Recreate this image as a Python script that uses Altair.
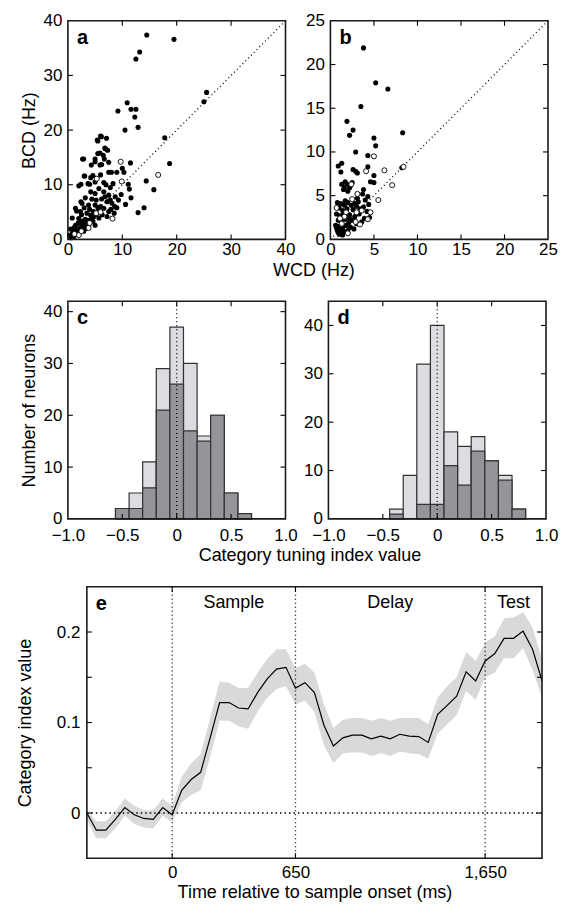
import altair as alt
import pandas as pd

FONT = "Liberation Sans"
LBL = 17
TTL = 18

# ---------------- panel a (WCD vs BCD, Hz) ----------------
a_filled_wcd = [14.5, 19.5, 13.2, 12.5, 25.5, 25.0, 10.9, 9.2, 11.6, 12.5, 12.3, 12.9, 10.5, 17.8, 18.7,
                11.5, 14.4, 15.8, 11.1, 11.3, 11.6, 10.6, 14.0, 12.9, 10.0, 10.3, 9.0, 8.0, 7.5,
                6.15, 5.5, 6.9, 5.5, 6.5, 2.7, 5.0, 6.2, 4.3, 3.1, 4.6, 5.0, 3.7, 6.6, 2.0, 5.7, 6.6,
                4.2, 5.0, 7.5, 8.7, 3.2, 4.4, 6.2, 7.2, 2.6, 3.8, 5.0, 8.1, 1.4, 6.6, 2.3, 3.5, 4.7,
                5.6, 7.5, 0.8, 2.0, 3.2, 4.4, 5.7, 1.4, 2.6, 3.8, 5.0, 0.5, 1.7, 2.9, 0.8, 2.0, 0.3,
                1.1, 5.9, 7.3, 6.7, 5.9, 7.5, 5.0, 2.9, 3.0, 4.2, 2.4, 4.0, 2.4, 1.6, 7.1, 6.0, 5.4,
                6.8, 7.8, 8.3, 7.0, 6.0, 7.8, 8.6, 9.3, 9.8, 6.0, 5.2, 4.0, 3.0, 2.5, 1.9, 1.2, 2.2,
                3.5, 4.2, 6.3, 7.2, 8.5, 3.0, 1.5, 0.6, 2.6, 3.9, 4.8, 5.5, 6.8, 7.9, 9.0, 1.0, 2.4,
                3.3, 0.9, 1.8, 2.7, 4.6, 5.2]
a_filled_bcd = [37.4, 36.6, 34.3, 33.0, 26.9, 25.2, 25.0, 23.5, 23.8, 23.8, 22.4, 20.5, 20.0, 18.6, 13.9,
                14.0, 10.7, 9.1, 10.1, 9.2, 7.6, 6.4, 5.8, 4.9, 13.0, 12.3, 12.3, 12.3, 12.3,
                18.8, 18.0, 16.6, 15.7, 15.4, 14.7, 14.2, 13.7, 13.6, 11.6, 11.7, 10.5, 10.2, 10.4, 9.8, 9.3, 8.7,
                8.7, 8.4, 8.1, 7.8, 7.6, 7.4, 7.4, 6.9, 6.6, 6.3, 6.3, 6.6, 5.7, 5.7, 5.1, 4.8, 5.1,
                5.1, 5.1, 3.9, 3.8, 3.7, 3.8, 3.9, 2.6, 2.6, 2.6, 2.6, 1.9, 1.7, 1.5, 1.1, 1.0, 0.7,
                0.5, 15.8, 16.3, 14.7, 13.6, 14.1, 14.7, 14.7, 11.6, 11.3, 10.1, 10.1, 6.9, 5.2, 18.5, 18.9, 18.2,
                16.7, 9.5, 10.2, 10.0, 11.8, 7.2, 6.0, 7.2, 8.2, 6.0, 7.2, 5.5, 5.8, 4.5, 3.0, 2.2, 2.1,
                3.2, 4.4, 4.5, 4.2, 4.8, 2.5, 1.3, 0.3, 3.3, 3.5, 4.2, 5.8, 7.8, 5.5, 5.8, 1.6, 1.8,
                2.0, 0.8, 0.9, 2.8, 3.3, 4.6]
a_open_wcd = [9.7, 5.3, 9.9, 16.6, 8.2, 3.8, 5.2, 2.0, 4.0, 1.2, 6.0, 2.5]
a_open_bcd = [14.2, 11.1, 10.6, 11.8, 3.8, 2.1, 4.8, 0.8, 3.0, 1.0, 5.0, 1.5]

# ---------------- panel b ----------------
b_filled_wcd = [3.8, 5.2, 6.6, 3.5, 1.9, 2.6, 2.2, 8.3, 5.0, 5.2, 2.9, 4.3, 0.9, 1.3, 1.2, 2.6, 2.9, 3.1,
                4.3, 5.0, 4.6, 5.0, 8.2, 1.3, 1.9, 2.3, 1.5, 2.0, 2.5, 3.7, 4.3, 3.8, 3.1, 1.7, 2.2, 1.6,
                0.8, 1.2, 1.6, 2.0, 2.4, 1.0, 1.4, 1.9, 2.6, 3.0, 3.4, 3.8, 4.2, 0.7, 1.1, 1.5, 2.2, 2.8,
                3.3, 3.9, 4.5, 0.9, 1.3, 1.7, 2.1, 2.5, 3.0, 3.6, 0.6, 1.0, 1.4, 1.8, 2.3, 2.7, 0.8, 1.2,
                1.6, 2.0, 1.0, 1.4, 0.7, 4.0, 4.4, 3.2, 2.8, 1.7, 1.1, 2.2]
b_filled_bcd = [21.9, 17.9, 17.2, 15.2, 13.5, 12.5, 11.9, 12.2, 11.6, 10.7, 10.0, 9.6, 8.4, 8.7, 7.7, 8.0, 7.8, 7.6,
                8.3, 7.3, 6.6, 6.5, 8.2, 6.3, 6.3, 6.1, 5.7, 5.5, 6.5, 5.2, 4.9, 5.7, 4.7, 6.6, 5.9, 5.9,
                4.2, 4.1, 3.9, 4.2, 3.9, 3.6, 3.3, 3.5, 3.4, 3.8, 3.5, 3.7, 3.2, 2.9, 2.7, 2.9, 2.8, 2.6,
                2.9, 2.4, 2.5, 2.2, 2.0, 2.3, 1.9, 2.2, 1.8, 2.0, 1.6, 1.5, 1.3, 1.6, 1.4, 1.2, 1.0, 0.8,
                0.9, 1.0, 0.6, 0.5, 1.3, 4.5, 4.0, 4.3, 4.1, 4.4, 1.1, 2.4]
b_open_wcd = [5.0, 4.1, 6.2, 7.1, 5.5, 3.1, 8.4, 4.6, 3.4, 0.7, 2.4, 1.8, 2.9, 3.6, 1.3, 2.5, 4.3, 1.6, 3.0, 2.0, 1.1]
b_open_bcd = [9.5, 7.8, 7.9, 6.2, 4.5, 5.2, 8.3, 3.1, 1.7, 3.6, 6.3, 3.1, 2.0, 3.3, 1.8, 4.6, 2.3, 2.6, 3.1, 0.7, 2.4]

# ---------------- panels c, d (histograms) ----------------
bin_width = 0.125
c_centers = [-0.5, -0.375, -0.25, -0.125, 0.0, 0.125, 0.25, 0.375, 0.5, 0.625]
c_all = [2, 5, 11, 29, 37, 30, 16, 20, 5, 1]
c_sub = [2, 2, 6, 21, 26, 17, 15, 20, 5, 1]
d_centers = [-0.375, -0.25, -0.125, 0.0, 0.125, 0.25, 0.375, 0.5, 0.625, 0.75]
d_all = [2, 9, 32, 40, 18, 15, 17, 12, 9, 2]
d_sub = [1, 0, 3, 3, 11, 7, 14, 12, 8, 2]

# ---------------- panel e (time course) ----------------
e_time = [-450, -400, -350, -300, -250, -200, -150, -100, -50, 0, 50, 100, 150, 200, 250, 300, 350,
          400, 450, 500, 550, 600, 650, 700, 750, 800, 850, 900, 950, 1000, 1050, 1100, 1150, 1200,
          1250, 1300, 1350, 1400, 1450, 1500, 1550, 1600, 1650, 1700, 1750, 1800, 1850, 1900, 1950]
e_mean = [0.000, -0.019, -0.019, -0.007, 0.006, -0.002, -0.006, -0.007, 0.006, -0.002, 0.025, 0.037,
          0.045, 0.083, 0.122, 0.122, 0.116, 0.115, 0.133, 0.148, 0.159, 0.161, 0.138, 0.144, 0.133,
          0.097, 0.074, 0.083, 0.086, 0.086, 0.082, 0.085, 0.082, 0.087, 0.085, 0.0845, 0.078, 0.109,
          0.119, 0.129, 0.156, 0.146, 0.168, 0.176, 0.193, 0.193, 0.201, 0.181, 0.146]
e_upper = [0.004, -0.009, -0.009, 0.002, 0.016, 0.008, 0.003, 0.003, 0.016, 0.008, 0.040, 0.055,
           0.065, 0.105, 0.145, 0.144, 0.138, 0.138, 0.155, 0.170, 0.181, 0.181, 0.160, 0.165, 0.155,
           0.120, 0.094, 0.103, 0.105, 0.105, 0.102, 0.105, 0.102, 0.105, 0.105, 0.105, 0.098, 0.128,
           0.140, 0.150, 0.178, 0.168, 0.188, 0.195, 0.215, 0.216, 0.222, 0.205, 0.170]
e_lower = [-0.008, -0.028, -0.028, -0.017, -0.003, -0.012, -0.016, -0.017, -0.003, -0.010, 0.012, 0.020,
           0.025, 0.062, 0.102, 0.102, 0.096, 0.093, 0.112, 0.127, 0.137, 0.140, 0.120, 0.124, 0.112,
           0.075, 0.055, 0.066, 0.067, 0.067, 0.063, 0.066, 0.063, 0.068, 0.066, 0.065, 0.060, 0.088,
           0.098, 0.108, 0.135, 0.125, 0.150, 0.155, 0.171, 0.171, 0.182, 0.158, 0.128]
e_events = [0, 650, 1650]
e_phase_names = ["Sample", "Delay", "Test"]
e_phase_start = [0, 650, 1650]
e_phase_end = [650, 1650, 1950]

panel_letters = ["a", "b", "c", "d", "e"]

LIGHT = "#dcdde0"
DARK = "#949599"
EDGE = "#333333"
BAND = "#d8d9db"
NOFRAME = alt.ViewBackground(stroke="transparent", fill="transparent")


def lab_axis(orient, values, title=None, expr=None, fmt=None, label_pad=4, title_pad=8, **extra):
    kw = dict(orient=orient, values=values, ticks=False, domain=False, grid=False,
              labelFont=FONT, labelFontSize=LBL, labelColor="black", labelPadding=label_pad,
              titleFont=FONT, titleFontSize=TTL, titleFontWeight="normal", titleColor="black",
              titlePadding=title_pad, labelFlush=False, labelOverlap=False, minExtent=0, title=title)
    if expr is not None:
        kw["labelExpr"] = expr
    if fmt is not None:
        kw["format"] = fmt
    kw.update(extra)
    return alt.Axis(**kw)


def inner_ticks(xvals, yvals, xs, ys, w, h, L=5):
    xt = pd.DataFrame({"v": xvals})
    yt = pd.DataFrame({"v": yvals})
    st = dict(color="black", strokeWidth=1.1)
    return [
        alt.Chart(xt).mark_rule(**st).encode(x=alt.X("v:Q", scale=xs, axis=None),
                                             y=alt.value(h), y2=alt.value(h - L)),
        alt.Chart(xt).mark_rule(**st).encode(x=alt.X("v:Q", scale=xs, axis=None),
                                             y=alt.value(0), y2=alt.value(L)),
        alt.Chart(yt).mark_rule(**st).encode(y=alt.Y("v:Q", scale=ys, axis=None),
                                             x=alt.value(0), x2=alt.value(L)),
        alt.Chart(yt).mark_rule(**st).encode(y=alt.Y("v:Q", scale=ys, axis=None),
                                             x=alt.value(w - L), x2=alt.value(w)),
    ]


def framed(layers, xs, ys, xt, yt, letter, w, h):
    lab = pd.DataFrame({"t": [letter]})
    let = alt.Chart(lab).mark_text(
        font=FONT, fontSize=20, fontWeight="bold", align="left", baseline="alphabetic", color="black"
    ).encode(text="t:N", x=alt.value(9), y=alt.value(23))
    box = alt.Chart(lab).mark_rect(fillOpacity=0, stroke="#1a1a1a", strokeWidth=1.6).encode(
        x=alt.value(0), x2=alt.value(w), y=alt.value(0), y2=alt.value(h))
    return alt.layer(*layers, *inner_ticks(xt, yt, xs, ys, w, h), let, box).resolve_axis(
        x="independent", y="independent").properties(width=w, height=h, view=NOFRAME)


def scatter_panel(fx, fy, ox, oy, maxv, lab_vals, tick_vals, letter, ytitle, xtitle=None, xtitle_x=None):
    filled = pd.DataFrame({"wcd": fx, "bcd": fy})
    opened = pd.DataFrame({"wcd": ox, "bcd": oy})
    diag = pd.DataFrame({"wcd": [0, maxv], "bcd": [0, maxv]})
    xs = alt.Scale(domain=[0, maxv], nice=False, zero=False)
    ys = alt.Scale(domain=[0, maxv], nice=False, zero=False)
    xkw = {}
    if xtitle is not None:
        xkw = dict(titleX=xtitle_x, titleY=22, titleAlign="center", titleBaseline="top")
    p1 = alt.Chart(filled).mark_circle(size=26, color="black", opacity=1).encode(
        x=alt.X("wcd:Q", scale=xs, axis=lab_axis("bottom", lab_vals, title=xtitle, fmt="d", label_pad=2, **xkw)),
        y=alt.Y("bcd:Q", scale=ys, axis=lab_axis("left", lab_vals, title=ytitle, fmt="d", label_pad=6, title_pad=5)))
    p2 = alt.Chart(opened).mark_point(shape="circle", size=26, filled=True, fill="white",
                                      stroke="black", strokeWidth=0.9, opacity=1).encode(
        x=alt.X("wcd:Q", scale=xs, axis=None), y=alt.Y("bcd:Q", scale=ys, axis=None))
    p3 = alt.Chart(diag).mark_line(color="black", strokeWidth=1.3, strokeDash=[1, 3]).encode(
        x=alt.X("wcd:Q", scale=xs, axis=None), y=alt.Y("bcd:Q", scale=ys, axis=None))
    return framed([p3, p1, p2], xs, ys, tick_vals, tick_vals, letter, 218, 219)


def hist_panel(centers, allc, subc, ymax, letter, ytitle, xtitle=None, xtitle_x=None):
    df = pd.DataFrame({"c": centers, "all": allc, "sub": subc})
    df["lo"] = df["c"] - bin_width / 2
    df["hi"] = df["c"] + bin_width / 2
    xs = alt.Scale(domain=[-1, 1], nice=False, zero=False)
    ys = alt.Scale(domain=[0, ymax], nice=False, zero=False)
    expr = "datum.value == 0 ? '0' : format(datum.value, '.1f')"
    xkw = {}
    if xtitle is not None:
        xkw = dict(titleX=xtitle_x, titleY=28, titleAlign="center", titleBaseline="top")
    b1 = alt.Chart(df).mark_rect(fill=LIGHT, stroke=EDGE, strokeWidth=1.2).encode(
        x=alt.X("lo:Q", scale=xs, axis=lab_axis("bottom", [-1, -0.5, 0, 0.5, 1], title=xtitle, expr=expr,
                                               label_pad=9, **xkw)),
        x2="hi:Q",
        y=alt.Y("all:Q", scale=ys, axis=lab_axis("left", [0, 10, 20, 30, 40], title=ytitle, fmt="d",
                                                label_pad=6, title_pad=5)),
        y2=alt.datum(0))
    b2 = alt.Chart(df[df["sub"] > 0]).mark_rect(fill=DARK, stroke=EDGE, strokeWidth=1.2).encode(
        x=alt.X("lo:Q", scale=xs, axis=None), x2="hi:Q",
        y=alt.Y("sub:Q", scale=ys, axis=None), y2=alt.datum(0))
    zl = alt.Chart(pd.DataFrame({"z": [0]})).mark_rule(color="black", strokeWidth=1.3, strokeDash=[1, 3]).encode(
        x=alt.X("z:Q", scale=xs, axis=None))
    return framed([b1, b2, zl], xs, ys, [-0.5, 0, 0.5], [10, 20, 30, 40], letter, 218, 218)


E_H = 272


def time_panel():
    df = pd.DataFrame({"t": e_time, "m": e_mean, "lo": e_lower, "hi": e_upper})
    xs = alt.Scale(domain=[-450, 1950], nice=False, zero=False)
    ys = alt.Scale(domain=[-0.05, 0.25], nice=False, zero=False)
    yexpr = "datum.value == 0 ? '0' : format(datum.value, '.1f')"
    band = alt.Chart(df).mark_area(color=BAND, opacity=1).encode(
        x=alt.X("t:Q", scale=xs, axis=None), y=alt.Y("lo:Q", scale=ys, axis=None), y2="hi:Q")
    line = alt.Chart(df).mark_line(color="black", strokeWidth=1.2).encode(
        x=alt.X("t:Q", scale=xs, axis=lab_axis("bottom", e_events, title="Time relative to sample onset  (ms)",
                                              fmt=",d", label_pad=6, title_pad=3)),
        y=alt.Y("m:Q", scale=ys, axis=lab_axis("left", [0, 0.1, 0.2], title="Category index value",
                                              expr=yexpr, label_pad=7, title_pad=22)))
    ev = alt.Chart(pd.DataFrame({"t": e_events})).mark_rule(color="black", strokeWidth=1.3, strokeDash=[1, 3]).encode(
        x=alt.X("t:Q", scale=xs, axis=None))
    zl = alt.Chart(pd.DataFrame({"y": [0]})).mark_rule(color="black", strokeWidth=1.3, strokeDash=[1.5, 3]).encode(
        y=alt.Y("y:Q", scale=ys, axis=None))
    ph = pd.DataFrame({"name": e_phase_names, "s": e_phase_start, "e": e_phase_end})
    txt = alt.Chart(ph).transform_calculate(mid="(datum.s + datum.e) / 2").mark_text(
        font=FONT, fontSize=TTL, baseline="alphabetic", align="center", color="black").encode(
        x=alt.X("mid:Q", scale=xs, axis=None), y=alt.value(21), text="name:N")
    return framed([band, zl, ev, line, txt], xs, ys, e_events,
                  [0, 0.05, 0.1, 0.15, 0.2], "e", 456, E_H)


pa = scatter_panel(a_filled_wcd, a_filled_bcd, a_open_wcd, a_open_bcd, 40, [0, 10, 20, 30, 40],
                   [10, 20, 30], "a", "BCD (Hz)", xtitle="WCD (Hz)", xtitle_x=246)
pb = scatter_panel(b_filled_wcd, b_filled_bcd, b_open_wcd, b_open_bcd, 25, [0, 5, 10, 15, 20, 25],
                   [5, 10, 15, 20], "b", None)
pc = hist_panel(c_centers, c_all, c_sub, 42, "c", "Number of neurons",
                xtitle="Category tuning index value", xtitle_x=242)
pd_ = hist_panel(d_centers, d_all, d_sub, 45, "d", None)
pe = time_panel()

# invisible spacer so that panel e starts further right than panels a and c
spacer = alt.Chart(pd.DataFrame({"t": [""]})).mark_rect(opacity=0).encode(
    x=alt.value(0), x2=alt.value(1), y=alt.value(0), y2=alt.value(E_H)
).properties(width=1, height=E_H, view=NOFRAME)

row1 = alt.hconcat(pa, pb, spacing=45, bounds="flush")
row2 = alt.hconcat(pc, pd_, spacing=43, bounds="flush")
row3 = alt.hconcat(spacer, pe, spacing=18, bounds="flush")

chart = alt.vconcat(row1, row2, row3, spacing=19).properties(
    padding={"left": 7, "top": 2, "right": 0, "bottom": 0}
).configure(font=FONT, background="white")

chart.save("out.html", embed_options={"renderer": "svg", "actions": False})
